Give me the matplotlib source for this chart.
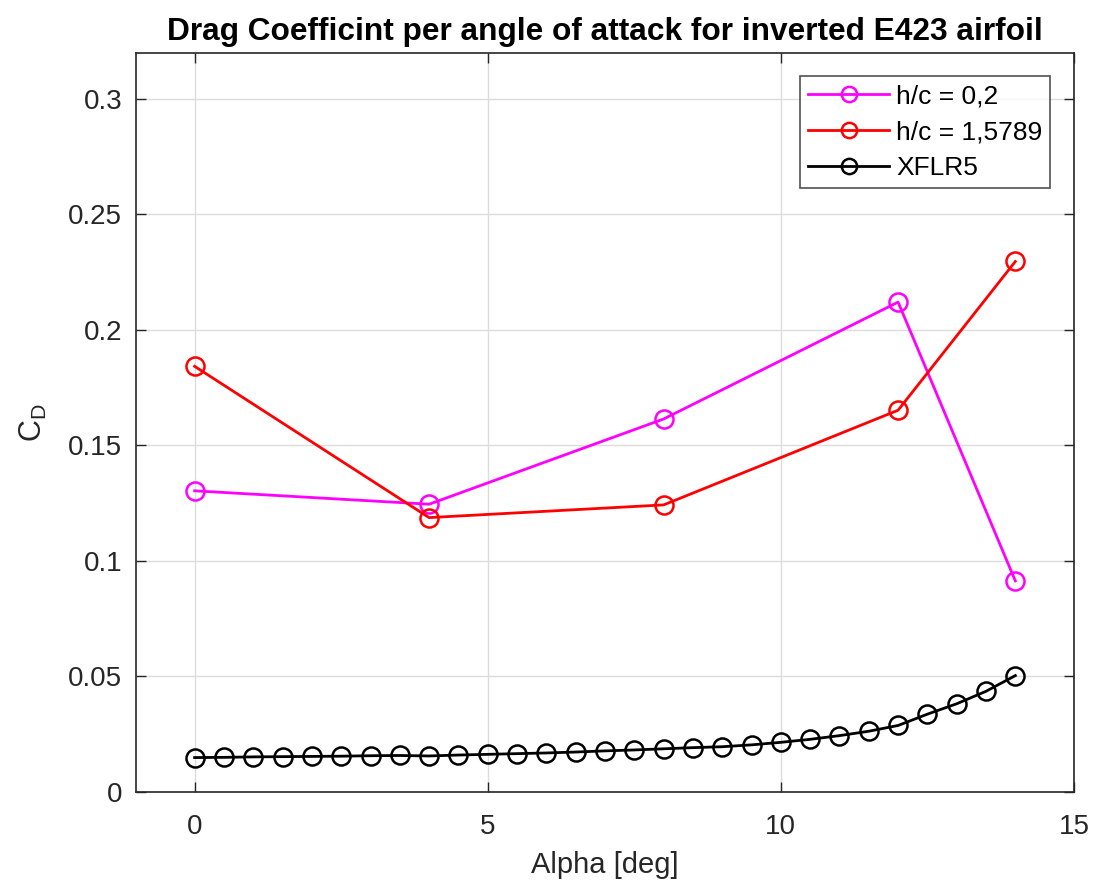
import numpy as np
import matplotlib
matplotlib.use('Agg')
import matplotlib.pyplot as plt
from matplotlib.ticker import FuncFormatter

## DATA ----------------

alpha_ground = [0, 4, 8, 12, 14]
cd_h02 = [0.1303, 0.1245, 0.1614, 0.2120, 0.0913] # h/c = 0,2
cd_h15789 = [0.1842, 0.1187, 0.1242, 0.1652, 0.2296] # h/c = 1,5789

alpha_xflr5 = np.arange(0, 14.5, 0.5)
cd_xflr5 = [0.0148, 0.0149, 0.0151, 0.0152, 0.0153, 0.0154, 0.0156, 0.0157, 0.0155, 0.0159,
            0.0162, 0.0165, 0.0168, 0.0172, 0.0177, 0.0181, 0.0186, 0.0191, 0.0195, 0.0203,
            0.0214, 0.0227, 0.0243, 0.0262, 0.0287, 0.0336, 0.0381, 0.0435, 0.0503]

legend_labels = ['h/c = 0,2', 'h/c = 1,5789', 'XFLR5']

## PLOT ----------------

plt.rcParams['font.family'] = 'Liberation Sans'
plt.rcParams['mathtext.fontset'] = 'custom'
plt.rcParams['mathtext.rm'] = 'Liberation Sans'

axis_gray = '#262626'

fig = plt.figure(figsize=(10.96, 8.81), dpi=100)
ax = fig.add_axes([0.1241, 0.1013, 0.8558, 0.8389])

ax.plot(alpha_ground, cd_h02, color='magenta', lw=2, marker='o', ms=13,
        mfc='none', mew=1.8, label=legend_labels[0])
ax.plot(alpha_ground, cd_h15789, color='red', lw=2, marker='o', ms=13,
        mfc='none', mew=1.8, label=legend_labels[1])
ax.plot(alpha_xflr5, cd_xflr5, color='black', lw=2, marker='o', ms=13,
        mfc='none', mew=1.8, label=legend_labels[2])

ax.set_xlim(-1, 15)
ax.set_ylim(0, 0.32)
ax.set_xticks([0, 5, 10, 15])
ax.set_yticks([0, 0.05, 0.1, 0.15, 0.2, 0.25, 0.3])
ax.yaxis.set_major_formatter(FuncFormatter(lambda v, p: '%g' % v))

ax.grid(True, color='#dcdcdc', lw=1)
ax.set_axisbelow(True)
ax.tick_params(direction='in', length=7, width=1, top=True, right=True,
               labelsize=20, colors=axis_gray, pad=10)
ax.tick_params(axis='x', pad=16)
for s in ax.spines.values():
    s.set_color(axis_gray)
    s.set_linewidth(1.2)

ax.set_title('Drag Coefficint per angle of attack for inverted E423 airfoil',
             fontsize=22.8, fontweight='bold', pad=9)
ax.set_xlabel('Alpha [deg]', fontsize=21, color=axis_gray, labelpad=8)
ax.set_ylabel(r'$\mathrm{C_D}$', fontsize=22, color=axis_gray, labelpad=14)

leg = ax.legend(loc='upper right', fontsize=19, frameon=True, fancybox=False,
                edgecolor=axis_gray, handlelength=3.1, handletextpad=0.25,
                borderpad=0.3, labelspacing=0.45, borderaxespad=0.9)
leg.get_frame().set_linewidth(1.2)
for h in leg.legend_handles:
    h.set_markersize(11)

fig.savefig('out.png', dpi=100)
